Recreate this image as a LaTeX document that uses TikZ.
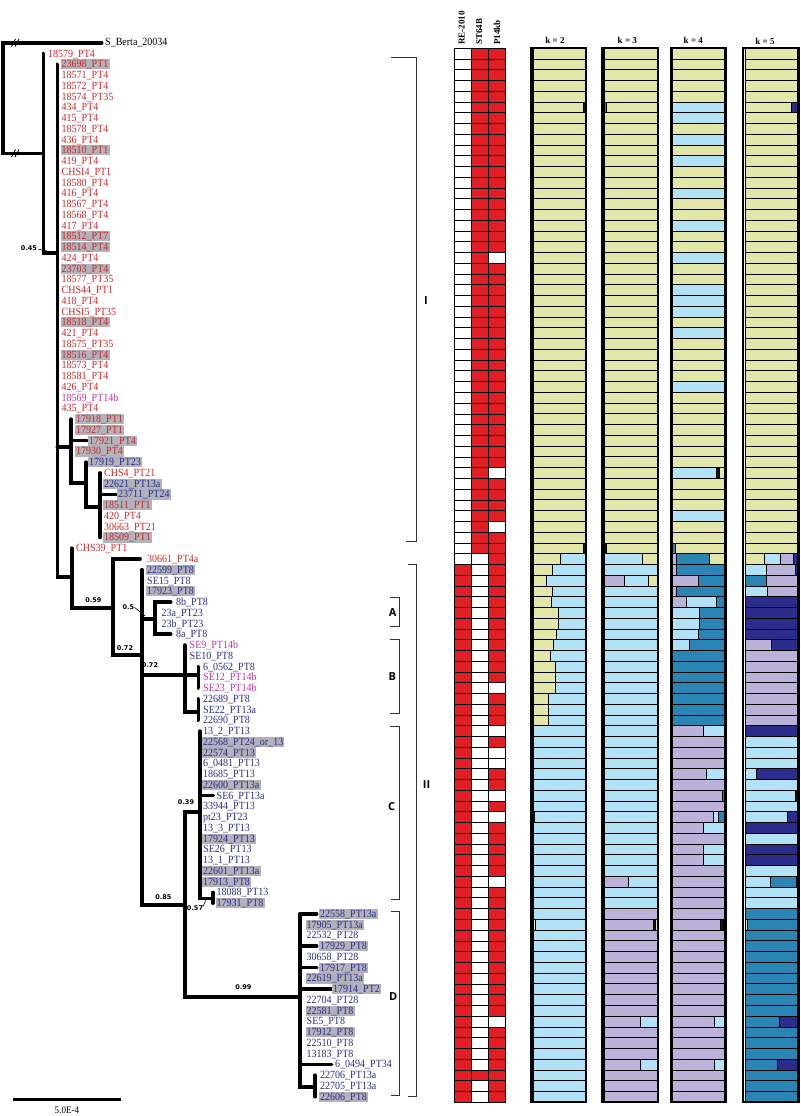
\documentclass[tikz,border=0pt]{standalone}
\usepackage{fontspec}
\setmainfont{Liberation Serif}
\newfontfamily\labfont[FakeStretch=0.91]{Liberation Serif}
\newfontfamily\supfont{DejaVu Sans}
\newfontfamily\clfont{Open Sans}

\definecolor{labred}{RGB}{204,40,40}
\definecolor{labblue}{RGB}{42,46,140}
\definecolor{labmag}{RGB}{192,52,160}
\definecolor{hlgray}{RGB}{178,178,186}
\definecolor{cellred}{RGB}{224,30,36}
\definecolor{memY}{RGB}{226,230,168}
\definecolor{memB}{RGB}{178,226,246}
\definecolor{memL}{RGB}{186,178,216}
\definecolor{memT}{RGB}{42,132,180}
\definecolor{memN}{RGB}{44,44,140}
\definecolor{memK}{RGB}{20,20,20}

\tikzset{
  br/.style={line width=3.6pt, line cap=round},
  leaf/.style={anchor=west, inner xsep=1.2pt, inner ysep=0.4pt,
    text height=8.2pt, text depth=1.2pt, font=\labfont\fontsize{11}{11}\selectfont},
  hl/.style={fill=hlgray},
  nohl/.style={},
  sup/.style={font=\supfont\bfseries\fontsize{6.5}{7}\selectfont, inner sep=0pt},
  brk/.style={line width=1.1pt, draw=black!80},
  cl/.style={font=\clfont\bfseries\fontsize{11}{12}\selectfont, inner sep=0pt},
  hdr/.style={font=\bfseries\fontsize{9}{9}\selectfont, inner sep=0pt},
  cell/.style={draw=black, line width=0.6pt},
  segbox/.style={draw=black, line width=0.7pt},
  kframe/.style={draw=black, line width=2.2pt},
}

% one coloured piece of a membership bar: x0, x1, row, colour, from, to
\newcommand{\kseg}[6]{\draw[segbox,fill=mem#4] ({#1+(#2-#1)*#5},#3-0.5) rectangle ({#1+(#2-#1)*#6},#3+0.5);}

\begin{document}
\begin{tikzpicture}[x=1pt,y=-10.755pt]
\useasboundingbox (0,-3.9744) rectangle (800,99.79);

% Tree: outgroup and root
\draw[br] (101.7,0) -- (2.7,0) -- (2.7,10.28) -- (43.3,10.28);
\node[anchor=west, inner sep=0pt, font=\labfont\fontsize{11}{11}\selectfont] (og) at (105,0) {S\_Berta\_20034};
\foreach \yy in {0,10.28} {
  \draw[line width=0.9pt] (11.5,\yy+0.35) -- (15.5,\yy-0.35);
  \draw[line width=0.9pt] (15,\yy+0.35) -- (19,\yy-0.35);
}
% Clade I backbone
\draw[br] (43.3,1) -- (43.3,19.55) -- (57.3,19.55);
\draw[br] (57.3,2) -- (57.3,49.65) -- (71.7,49.65);
\draw[br] (57.3,37.56) -- (71,37.56);
\draw[br] (71,35) -- (71,40.93) -- (86,40.93);
\draw[br] (71,37) -- (87,37);
\draw[br] (86,39) -- (86,43.14) -- (100,43.14);
\draw[br] (100,40) -- (100,46);
\draw[br] (100,42) -- (116.7,42);
% Clade II
\draw[br] (71.7,47) -- (71.7,52.58) -- (112.7,52.58);
\draw[br] (140,48) -- (112.7,48) -- (112.7,56.93) -- (142,56.93);
\draw[br] (142,49) -- (142,80.17) -- (185,80.17);
\draw[br] (142,53.58) -- (155,53.58);
\draw[br] (170.7,52) -- (155,52) -- (155,55) -- (170.7,55);
\draw[br] (142,58.8) -- (198.3,58.8);
\draw[br] (185,56) -- (185,62.2) -- (198.3,62.2);
\draw[br] (198.3,58) -- (198.3,60);
\draw[br] (198.3,61) -- (198.3,63);
\draw[br] (200,71.5) -- (185,71.5) -- (185,88.7) -- (300,88.7);
\draw[br] (200,64) -- (200,79.55) -- (212.7,79.55);
\draw[br] (200,70) -- (213.3,70);
\draw[br] (212.7,79) -- (212.7,80);
\draw[br] (300,81) -- (300,97.1) -- (315,97.1);
\draw[br] (315,96) -- (315,98);
\foreach \r in {81,84,86} {\draw[br] (300,\r) -- (316.7,\r);}
\foreach \r in {88,95} {\draw[br] (300,\r) -- (331.7,\r);}

% Support values
\node[sup] (s45) at (29,19.05) {0.45};
\draw[line width=0.6pt] (38.5,19.2) -- (47,19.35);
\node[sup] (s59) at (93.3,51.8) {0.59};
\node[sup] (s50) at (128.3,52.44) {0.5};
\draw[line width=0.6pt] (134.5,52.5) -- (145,53.3);
\node[sup] (s72a) at (125,56.25) {0.72};
\node[sup] (s72b) at (150,57.86) {0.72};
\node[sup] (s39) at (186,70.6) {0.39};
\node[sup] (s85) at (163.3,79.4) {0.85};
\node[sup] (s57) at (195,80.5) {0.57};
\draw[line width=0.6pt] (203,80.3) -- (206,79.7);
\node[sup] (s99) at (243.3,87.83) {0.99};

% Leaf labels
\foreach \r/\lx/\txt/\col/\hh in {
 1/48/18579\_PT4/labred/nohl, 2/61.5/23698\_PT1/labred/hl,
 3/61.5/18571\_PT4/labred/nohl, 4/61.5/18572\_PT4/labred/nohl,
 5/61.5/18574\_PT35/labred/nohl, 6/61.5/434\_PT4/labred/nohl,
 7/61.5/415\_PT4/labred/nohl, 8/61.5/18578\_PT4/labred/nohl,
 9/61.5/436\_PT4/labred/nohl, 10/61.5/18510\_PT1/labred/hl,
 11/61.5/419\_PT4/labred/nohl, 12/61.5/CHSI4\_PT1/labred/nohl,
 13/61.5/18580\_PT4/labred/nohl, 14/61.5/416\_PT4/labred/nohl,
 15/61.5/18567\_PT4/labred/nohl, 16/61.5/18568\_PT4/labred/nohl,
 17/61.5/417\_PT4/labred/nohl, 18/61.5/18512\_PT7/labred/hl,
 19/61.5/18514\_PT4/labred/hl, 20/61.5/424\_PT4/labred/nohl,
 21/61.5/23703\_PT4/labred/hl, 22/61.5/18577\_PT35/labred/nohl,
 23/61.5/CHS44\_PT1/labred/nohl, 24/61.5/418\_PT4/labred/nohl,
 25/61.5/CHSI5\_PT35/labred/nohl, 26/61.5/18518\_PT4/labred/hl,
 27/61.5/421\_PT4/labred/nohl, 28/61.5/18575\_PT35/labred/nohl,
 29/61.5/18516\_PT4/labred/hl, 30/61.5/18573\_PT4/labred/nohl,
 31/61.5/18581\_PT4/labred/nohl, 32/61.5/426\_PT4/labred/nohl,
 33/61.5/18569\_PT14b/labmag/nohl, 34/61.5/435\_PT4/labred/nohl,
 35/76/17918\_PT1/labred/hl, 36/76/17927\_PT1/labred/hl,
 37/89/17921\_PT4/labred/hl, 38/76/17930\_PT4/labred/hl,
 39/89/17919\_PT23/labblue/hl, 40/104/CHS4\_PT21/labred/nohl,
 41/104/22621\_PT13a/labblue/hl, 42/118/23711\_PT24/labblue/hl,
 43/104/18511\_PT1/labred/hl, 44/104/420\_PT4/labred/nohl,
 45/104/30663\_PT21/labred/nohl, 46/104/18509\_PT1/labred/hl,
 47/76/CHS39\_PT1/labred/nohl, 48/147/30661\_PT4a/labred/nohl,
 49/147/22599\_PT8/labblue/hl, 50/147/SE15\_PT8/labblue/nohl,
 51/147/17923\_PT8/labblue/hl, 52/176/8b\_PT8/labblue/nohl,
 53/161.5/23a\_PT23/labblue/nohl, 54/161.5/23b\_PT23/labblue/nohl,
 55/176/8a\_PT8/labblue/nohl, 56/189.5/SE9\_PT14b/labmag/nohl,
 57/189.5/SE10\_PT8/labblue/nohl, 58/203/6\_0562\_PT8/labblue/nohl,
 59/203/SE12\_PT14b/labmag/nohl, 60/203/SE23\_PT14b/labmag/nohl,
 61/203/22689\_PT8/labblue/nohl, 62/203/SE22\_PT13a/labblue/nohl,
 63/203/22690\_PT8/labblue/nohl, 64/203/13\_2\_PT13/labblue/nohl,
 65/203/22568\_PT24\_or\_13/labblue/hl, 66/203/22574\_PT13/labblue/hl,
 67/203/6\_0481\_PT13/labblue/nohl, 68/203/18685\_PT13/labblue/nohl,
 69/203/22600\_PT13a/labblue/hl, 70/216.5/SE6\_PT13a/labblue/nohl,
 71/203/33944\_PT13/labblue/nohl, 72/203/pt23\_PT23/labblue/nohl,
 73/203/13\_3\_PT13/labblue/nohl, 74/203/17924\_PT13/labblue/hl,
 75/203/SE26\_PT13/labblue/nohl, 76/203/13\_1\_PT13/labblue/nohl,
 77/203/22601\_PT13a/labblue/hl, 78/203/17913\_PT8/labblue/hl,
 79/216.5/18088\_PT13/labblue/nohl, 80/216.5/17931\_PT8/labblue/hl,
 81/320/22558\_PT13a/labblue/hl, 82/306.5/17905\_PT13a/labblue/hl,
 83/306.5/22532\_PT28/labblue/nohl, 84/320/17929\_PT8/labblue/hl,
 85/306.5/30658\_PT28/labblue/nohl, 86/320/17917\_PT8/labblue/hl,
 87/306.5/22619\_PT13a/labblue/hl, 88/333/17914\_PT2/labblue/hl,
 89/306.5/22704\_PT28/labblue/nohl, 90/306.5/22581\_PT8/labblue/hl,
 91/306.5/SE5\_PT8/labblue/nohl, 92/306.5/17912\_PT8/labblue/hl,
 93/306.5/22510\_PT8/labblue/nohl, 94/306.5/13183\_PT8/labblue/nohl,
 95/335/6\_0494\_PT34/labblue/nohl, 96/320/22706\_PT13a/labblue/nohl,
 97/320/22705\_PT13a/labblue/nohl, 98/320/22606\_PT8/labblue/hl}
  {\node[leaf, \hh, text=\col] (t\r) at (\lx-1.2,\r) {\txt};}

% Clade brackets
\draw[brk] (391,1.4) -- (416.5,1.4) -- (416.5,46.4) -- (406,46.4);
\node[cl] (gI) at (426,24) {I};
\draw[brk] (407.5,48.5) -- (416.5,48.5) -- (416.5,98) -- (408,98);
\node[cl] (gII) at (426.5,69) {II};
\draw[brk] (390,51.6) -- (399.3,51.6) -- (399.3,54.3) -- (390,54.3);
\node[cl] (gA) at (392.7,52.95) {A};
\draw[brk] (390,55.5) -- (399.3,55.5) -- (399.3,62.4) -- (390,62.4);
\node[cl] (gB) at (392.3,58.95) {B};
\draw[brk] (390,63.6) -- (399.3,63.6) -- (399.3,79.7) -- (391,79.7);
\node[cl] (gC) at (391.7,71.05) {C};
\draw[brk] (390.5,80.8) -- (399.3,80.8) -- (399.3,97.9) -- (390.5,97.9);
\node[cl] (gD) at (393.3,88.7) {D};

% Marker matrix
\node[hdr, rotate=90, anchor=west] (hRE) at (461.6,0.2) {RE-2010};
\node[hdr, rotate=90, anchor=west] (hST) at (479.3,0.2) {ST64B};
\node[hdr, rotate=90, anchor=west] (hPK) at (497,0.2) {P14kb};
\fill[cellred] (454,0.5) rectangle (505.6,98.5);
\fill[white] (454,0.5) rectangle (471.2,48.5);
\fill[white] (471.2,47.5) rectangle (488.4,98.5);
\fill[cellred] (471.2,95.5) rectangle (488.4,96.5);
\foreach \r in {20,40,45,60,64,66,67,70,72,78,91} {\fill[white] (488.4,\r-0.5) rectangle +(17.2,1);}
\foreach \r in {0,...,98} {\draw[cell] (454,\r+0.5) -- (505.6,\r+0.5);}
\foreach \cx in {454,471.2,488.4,505.6} {\draw[cell] (\cx,0.5) -- (\cx,98.5);}

% Structure bars
\node[hdr] (k2) at (555,-0.26) {k = 2};
\node[hdr] (k3) at (627.3,-0.26) {k = 3};
\node[hdr] (k4) at (693.3,-0.2) {k = 4};
\node[hdr] (k5) at (765,-0.1) {k = 5};
% k = 2
\foreach \r in {1,...,47} {\kseg{533}{585}{\r}{Y}{0}{1}}
\foreach \r in {64,...,98} {\kseg{533}{585}{\r}{B}{0}{1}}
\foreach \r/\fr in {48/.52,49/.38,50/.25,51/.37,52/.35,53/.48,54/.48,55/.44,
  56/.40,57/.34,58/.43,59/.43,60/.43,61/.29,62/.29,63/.29}
  {\kseg{533}{585}{\r}{Y}{0}{\fr}\kseg{533}{585}{\r}{B}{\fr}{1}}
\foreach \r/\segs in {6/{Y/0/.96,K/.96/1}, 47/{Y/0/.96,K/.96/1},
  72/{Y/0/.03,B/.03/1}, 82/{Y/0/.04,B/.04/1}}
  {\foreach \mc/\fa/\fb in \segs {\kseg{533}{585}{\r}{\mc}{\fa}{\fb}}}
% k = 3
\foreach \r in {1,...,47} {\kseg{604}{657}{\r}{Y}{0}{1}}
\foreach \r in {49,51,52,...,77,79,80} {\kseg{604}{657}{\r}{B}{0}{1}}
\foreach \r in {81,...,98} {\kseg{604}{657}{\r}{L}{0}{1}}
\foreach \r/\segs in {6/{T/0/.05,Y/.05/1}, 47/{K/0/.05,Y/.05/1},
  48/{B/0/.72,Y/.72/1}, 50/{L/0/.38,B/.38/.84,Y/.84/1},
  78/{L/0/.46,B/.46/1}, 82/{L/0/.93,K/.93/.97,Y/.97/1},
  91/{L/0/.68,B/.68/1}, 95/{L/0/.68,B/.68/1}}
  {\foreach \mc/\fa/\fb in \segs {\kseg{604}{657}{\r}{\mc}{\fa}{\fb}}}
% k = 4
\foreach \r in {1,...,47} {\kseg{672}{724.5}{\r}{Y}{0}{1}}
\foreach \r in {6,7,9,11,14,17,20,23,24,25,27,32,44} {\kseg{672}{724.5}{\r}{B}{0}{1}}
\foreach \r in {57,...,63} {\kseg{672}{724.5}{\r}{T}{0}{1}}
\foreach \r in {65,...,98} {\kseg{672}{724.5}{\r}{L}{0}{1}}
\foreach \r/\segs in {40/{B/0/.84,K/.84/.9,Y/.9/1}, 47/{T/0/.07,Y/.07/1},
  48/{L/0/.09,T/.09/.72,Y/.72/1}, 49/{L/0/.09,T/.09/1},
  50/{L/0/.5,T/.5/1}, 51/{L/0/.09,T/.09/1}, 52/{L/0/.28,B/.28/.85,T/.85/1},
  53/{B/0/.53,T/.53/1}, 54/{B/0/.53,T/.53/1}, 55/{B/0/.5,T/.5/1},
  56/{B/0/.33,T/.33/1}, 64/{L/0/.6,B/.6/1}, 68/{L/0/.66,B/.66/1},
  70/{L/0/.95,T/.95/1}, 72/{L/0/.78,B/.78/.89,T/.89/1}, 73/{L/0/.6,B/.6/1},
  75/{L/0/.6,B/.6/1}, 76/{L/0/.6,B/.6/1}, 82/{L/0/.92,K/.92/.97,Y/.97/1},
  91/{L/0/.8,B/.8/1}, 95/{L/0/.8,B/.8/1}}
  {\foreach \mc/\fa/\fb in \segs {\kseg{672}{724.5}{\r}{\mc}{\fa}{\fb}}}
% k = 5
\foreach \r in {1,...,47} {\kseg{745}{797.5}{\r}{Y}{0}{1}}
\foreach \r in {52,...,55,64,73,75,76} {\kseg{745}{797.5}{\r}{N}{0}{1}}
\foreach \r in {57,...,63} {\kseg{745}{797.5}{\r}{L}{0}{1}}
\foreach \r in {65,66,67,69,70,71,74,77,79,80} {\kseg{745}{797.5}{\r}{B}{0}{1}}
\foreach \r in {81,...,98} {\kseg{745}{797.5}{\r}{T}{0}{1}}
\foreach \r/\segs in {6/{Y/0/.88,N/.88/1}, 48/{Y/0/.37,B/.37/.68,L/.68/.92,N/.92/1},
  49/{B/0/.4,L/.4/.95,N/.95/1}, 50/{T/0/.4,L/.4/1}, 51/{B/0/.42,L/.42/1},
  56/{L/0/.5,N/.5/1}, 68/{B/0/.22,N/.22/1}, 70/{B/0/.96,K/.96/1},
  72/{B/0/.8,N/.8/1}, 78/{B/0/.48,T/.48/.97,K/.97/1}, 82/{Y/0/.04,T/.04/1},
  91/{T/0/.65,N/.65/1}, 95/{T/0/.62,N/.62/1}}
  {\foreach \mc/\fa/\fb in \segs {\kseg{745}{797.5}{\r}{\mc}{\fa}{\fb}}}
% frames
\draw[kframe] (531.5,0.5) rectangle (586.3,98.5);
\draw[kframe] (602.5,0.5) rectangle (658.3,98.5);
\draw[kframe] (670.7,0.5) rectangle (726,98.5);
\draw[kframe] (743.2,0.5) rectangle (799.2,98.5);
\draw[line width=3.2pt] (603,0.5) -- (603,98.5);
\draw[line width=3.2pt] (671.2,0.5) -- (671.2,98.5);

% Scale bar
\draw[line width=3pt] (13,98.3) -- (121,98.3);
\node[inner sep=0pt, font=\labfont\fontsize{10}{10}\selectfont] (sc) at (67,99.3) {5.0E-4};
\end{tikzpicture}
\end{document}
